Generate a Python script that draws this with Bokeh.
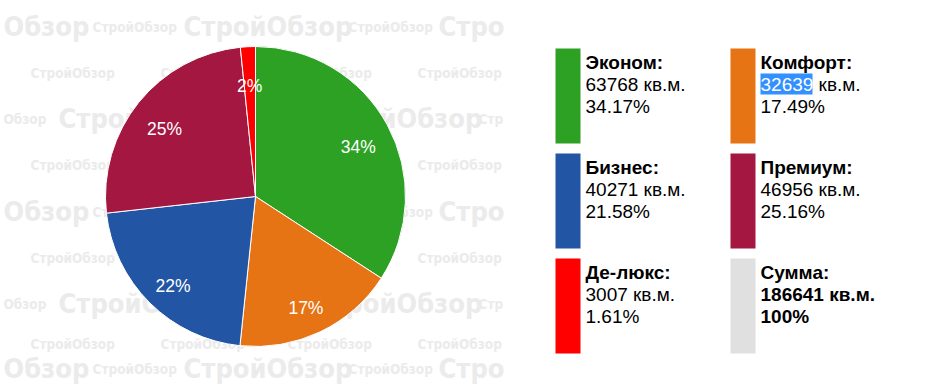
import math
from bokeh.plotting import figure
from bokeh.models import Range1d, ColumnDataSource
from bokeh.core.properties import value
from bokeh.embed import file_html
from bokeh.resources import INLINE

# ---- data ----
categories = ["Эконом", "Комфорт", "Бизнес", "Премиум", "Де-люкс"]
areas = [63768, 32639, 40271, 46956, 3007]
shares = [34.17, 17.49, 21.58, 25.16, 1.61]
slice_labels = ["34%", "17%", "22%", "25%", "2%"]
colors = ["#2ca124", "#e67314", "#2256a4", "#a31740", "#fe0000"]
total_label = "Сумма"
total_area = 186641
total_share = "100%"
total_color = "#e0e0e0"
unit = "кв.м."
watermark = "СтройОбзор"
watermark_tail = "Обзор"
watermark_head_big = "Стро"
watermark_head_small = "Стр"

# ---- layout ----
W, H = 927, 390
FONT = "Liberation Sans"
WM_FONT = "DejaVu Sans Condensed, Liberation Sans Narrow, Roboto Condensed, Roboto, sans-serif"


def Y(y):
    """screen y (page px) -> data y"""
    return H - y


p = figure(width=W, height=H, x_range=Range1d(0, W), y_range=Range1d(0, H),
           output_backend="svg", toolbar_location=None,
           x_axis_location=None, y_axis_location=None,
           min_border=0, outline_line_color=None)
p.grid.visible = False
p.background_fill_color = "white"
p.border_fill_color = "white"

# ---- watermark background (left area, up to x ~ 505) ----
wm_col = "#ebebeb"
big_full, big_tail, big_head = [], [], []
small_full, small_tail, small_head = [], [], []
for ry in [26, 211, 368]:
    big_tail.append((3, ry))
    big_full += [(183, ry)]
    big_head.append((438, ry))
    small_full += [(92, ry), (348, ry)]
for ry in [118, 303]:
    big_full += [(58, ry), (313, ry)]
    small_tail.append((3, ry))
    small_full.append((222, ry))
    small_head.append((478, ry))
for ry in [72, 164, 257, 343]:
    small_full += [(30, ry), (160, ry), (287, ry), (417, ry)]


def wm(pts, txt, size, align):
    if not pts:
        return
    p.text(x=[a for a, b in pts], y=[Y(b) for a, b in pts], text=[txt] * len(pts),
           text_font=value(WM_FONT), text_font_style="bold",
           text_font_size=size, text_color=wm_col, text_align=align, text_baseline="middle")


wm(big_full, watermark, "27px", "left")
wm(big_tail, watermark_tail, "27px", "left")
wm(big_head, watermark_head_big, "27px", "left")
wm(small_full, watermark, "13.5px", "left")
wm(small_tail, watermark_tail, "13.5px", "left")
wm(small_head, watermark_head_small, "13.5px", "left")

# ---- pie ----
cx, cy, r = 255, Y(196), 150
tot = float(sum(areas))
starts, ends, lx, ly = [], [], [], []
cum = 0.0
for a in areas:
    f = a / tot
    starts.append(math.pi / 2 - 2 * math.pi * cum)
    ends.append(math.pi / 2 - 2 * math.pi * (cum + f))
    th = 2 * math.pi * (cum + f / 2)
    lx.append(cx + 0.78 * r * math.sin(th))
    ly.append(cy + 0.78 * r * math.cos(th) - 6)
    cum += f

src = ColumnDataSource(dict(start=starts, end=ends, color=colors, lx=lx, ly=ly, lab=slice_labels))
p.wedge(x=cx, y=cy, radius=r, start_angle="start", end_angle="end", direction="clock",
        fill_color="color", line_color="white", line_width=1, source=src)
p.text(x="lx", y="ly", text="lab", source=src, text_color="white", text_font=value(FONT),
       text_font_size="17.5px", text_align="center", text_baseline="middle")

# ---- legend ----
col_x = [555, 730]
row_top = [48, 153, 258]
bar_w, bar_h = 25, 95
FS = 19
mid = 0.35 * FS  # baseline -> middle of text

items = []
for i, c in enumerate(categories):
    items.append((c + ":", f"{areas[i]} {unit}", f"{shares[i]:.2f}%", colors[i], False))
items.append((total_label + ":", f"{total_area} {unit}", total_share, total_color, True))


def txt(x, base, t, style, color="black"):
    p.text(x=[x], y=[Y(base - mid)], text=[t], text_font=value(FONT), text_font_style=style,
           text_font_size=f"{FS}px", text_color=color, text_align="left", text_baseline="middle")


for k, (title, v, s, col, bold) in enumerate(items):
    bx = col_x[k % 2]
    top = row_top[k // 2]
    p.quad(left=bx, right=bx + bar_w, top=Y(top), bottom=Y(top + bar_h), fill_color=col, line_color=None)
    tx = bx + bar_w + 5
    txt(tx, top + 21, title, "bold")
    style = "bold" if bold else "normal"
    if k == 1:
        # selected (highlighted) number as in the reference
        num = str(areas[1])
        p.quad(left=tx, right=tx + 52, top=Y(top + 25), bottom=Y(top + 46),
               fill_color="#3390ff", line_color=None)
        txt(tx, top + 43, num, style, "white")
        txt(tx + FS * 0.556 * len(num) + FS * 0.278, top + 43, unit, style)
    else:
        txt(tx, top + 43, v, style)
    txt(tx, top + 65, s, style)

open("out.html", "w").write(file_html(p, INLINE))
